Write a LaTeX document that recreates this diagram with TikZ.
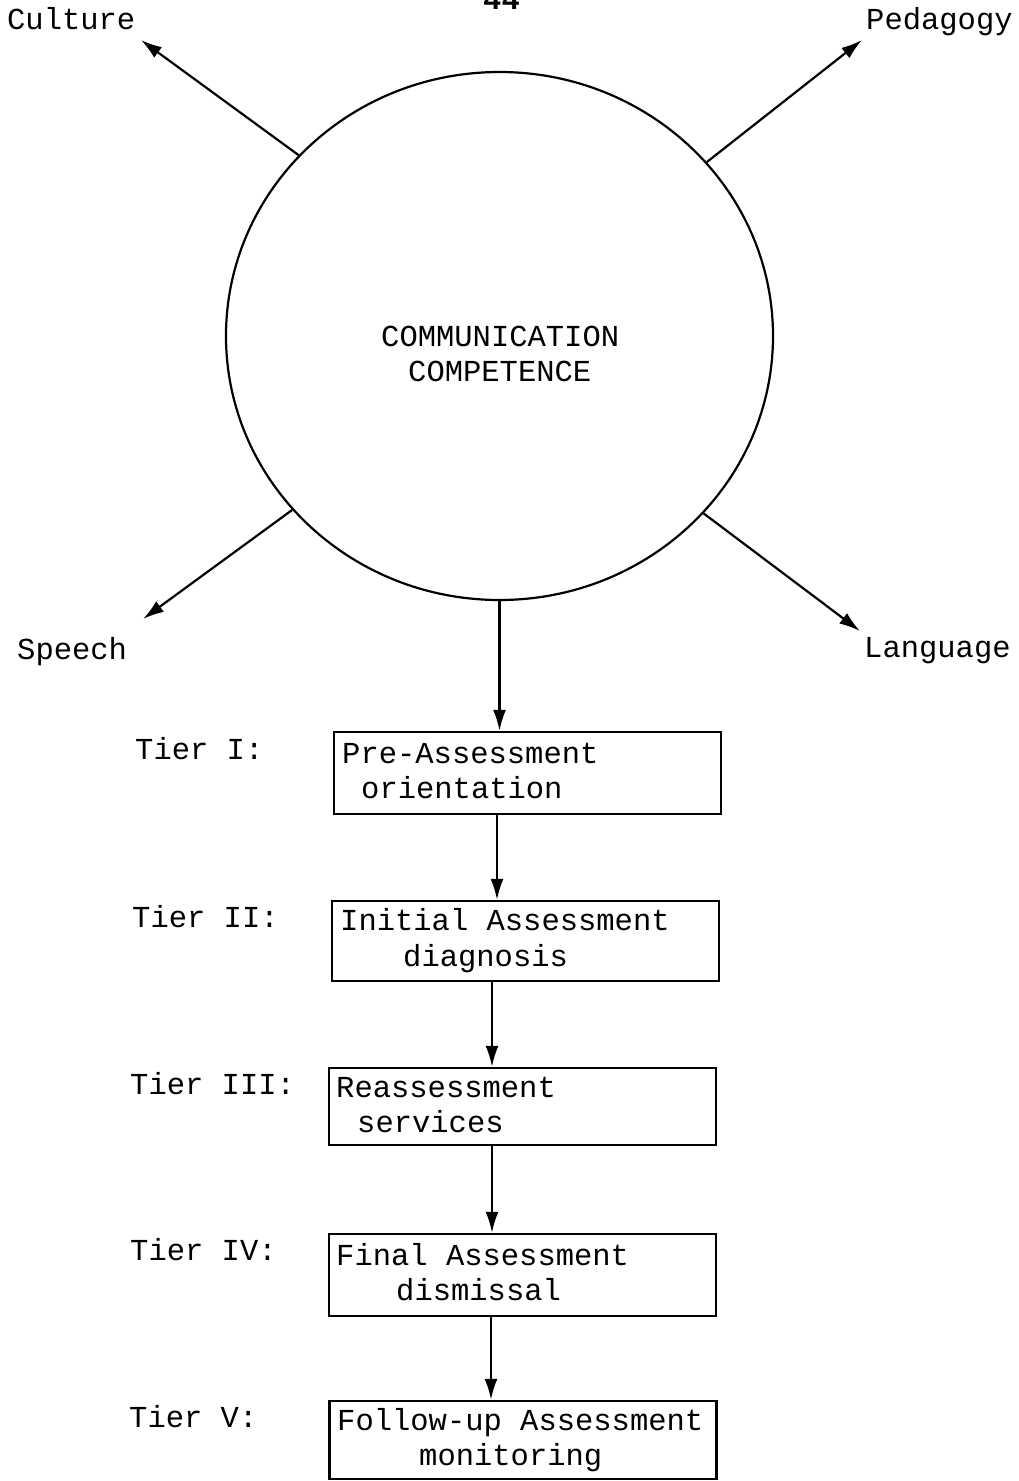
\documentclass[tikz,border=0pt]{standalone}
\usepackage{fontspec}
\setmonofont{Liberation Mono}
\usetikzlibrary{shapes.geometric,arrows.meta}
\tikzset{
  txt/.style={font=\ttfamily\fontsize{30.5}{35}\selectfont, inner sep=0pt, anchor=base west},
  arr/.style={line width=2.2pt, -{Latex[length=21pt,width=13pt]}},
  tierbox/.style={draw, line width=2.4pt, minimum width=387pt, inner sep=0pt},
}
\begin{document}
\begin{tikzpicture}[x=1pt,y=-1pt]
\useasboundingbox[fill=white] (0,0) rectangle (1018,1481);
% page number (cut at top)
\node[txt, font=\ttfamily\bfseries\fontsize{30.5}{35}\selectfont] (pg) at (483,9) {44};
% central ellipse
\node[draw, ellipse, line width=2.2pt, minimum width=547pt, minimum height=528pt, inner sep=0pt] (cc) at (499.5,336) {};
\node[txt] (cc1) at (381,346) {COMMUNICATION};
\node[txt] (cc2) at (408,381) {COMPETENCE};
% outer labels
\node[txt] (culture) at (7,29) {Culture};
\node[txt] (pedagogy) at (866,29) {Pedagogy};
\node[txt] (speech) at (17,659) {Speech};
\node[txt] (language) at (864,657) {Language};
\coordinate (tculture) at (141,40);
\coordinate (tpedagogy) at (862,40);
\coordinate (tspeech) at (143,619);
\coordinate (tlanguage) at (860,631);
\draw[arr] (cc.138.5) -- (tculture);
\draw[arr] (cc.40.9) -- (tpedagogy);
\draw[arr] (cc.220.8) -- (tspeech);
\draw[arr] (cc.319.1) -- (tlanguage);
% boxes
\node[tierbox, minimum height=82pt] (b1) at (527.5,773) {};
\node[tierbox, minimum height=80pt] (b2) at (525.5,941) {};
\node[tierbox, minimum height=77pt] (b3) at (522.5,1106.5) {};
\node[tierbox, minimum height=82pt] (b4) at (522.5,1275) {};
\node[tierbox, minimum height=78pt] (b5) at (523,1440) {};
% box texts
\node[txt] (b1a) at (342,763) {Pre-Assessment};
\node[txt] (b1b) at (361,798) {orientation};
\node[txt] (b2a) at (340,930) {Initial Assessment};
\node[txt] (b2b) at (403,966) {diagnosis};
\node[txt] (b3a) at (336,1097) {Reassessment};
\node[txt] (b3b) at (357,1132) {services};
\node[txt] (b4a) at (336,1265) {Final Assessment};
\node[txt] (b4b) at (396,1300) {dismissal};
\node[txt] (b5a) at (337,1430) {Follow-up Assessment};
\node[txt] (b5b) at (419,1465) {monitoring};
% tier labels
\node[txt] (t1) at (135,759) {Tier I:};
\node[txt] (t2) at (132,927) {Tier II:};
\node[txt] (t3) at (130,1094) {Tier III:};
\node[txt] (t4) at (130,1260) {Tier IV:};
\node[txt] (t5) at (129,1427) {Tier V:};
% connectors
\draw[arr] (cc.south) -- (cc.south |- b1.north);
\draw[arr] ([xshift=-30.5pt]b1.south) -- ([xshift=-30.5pt]b1.south |- b2.north);
\draw[arr] ([xshift=-33.5pt]b2.south) -- ([xshift=-33.5pt]b2.south |- b3.north);
\draw[arr] ([xshift=-30.5pt]b3.south) -- ([xshift=-30.5pt]b3.south |- b4.north);
\draw[arr] ([xshift=-31.5pt]b4.south) -- ([xshift=-31.5pt]b4.south |- b5.north);
\end{tikzpicture}
\end{document}
